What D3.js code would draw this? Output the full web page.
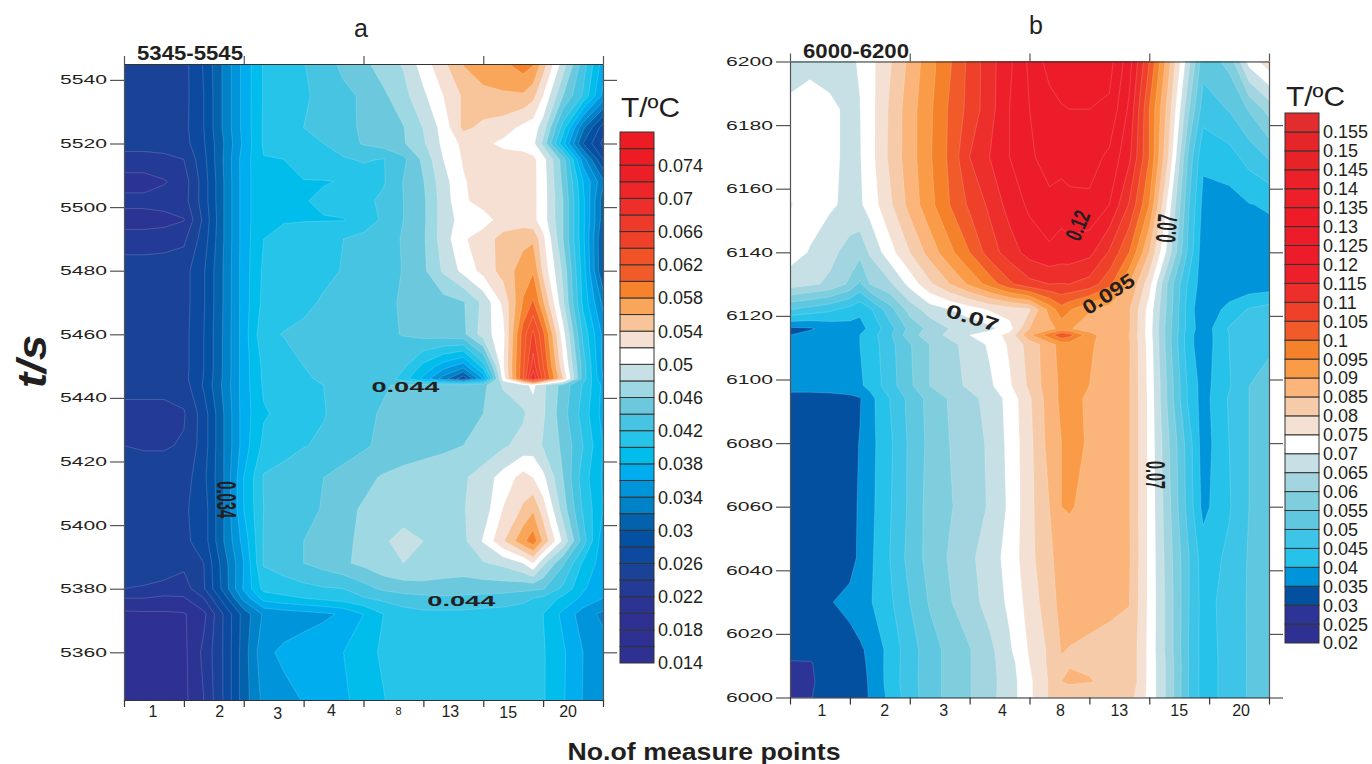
<!DOCTYPE html>
<html>
<head>
<meta charset="utf-8">
<title>T contours</title>
<script src="https://cdn.jsdelivr.net/npm/d3@7"></script>
<style>
  body { margin: 0; background: #fff; }
  text { font-family: "Liberation Sans", Arial, sans-serif; fill: #231f20; }
</style>
</head>
<body>
<div class="chart"></div>
<script>
// values are in 0.001 degC
const columnsA = [0,1,2,3,4,5,6,7,8,9,10,11,12,13,14,15,16,17,18,19,20,20.5,21,22,23,24];
const timesA = [5545,5535,5525,5520,5515,5508,5502,5496,5490,5480,5470,5460,5450,5446,5444,5435,5425,5415,5405,5395,5388,5380,5377,5372,5360,5345];
const gridA = [
  [25,25,25,25.3,28.2,32.4,36.7,40.2,40.9,41.9,43.1,44.5,45.5,47,48.2,51,53.5,56.1,57,57.6,59,58.2,55,49,43,37],
  [25,25,25,25.3,28,32.4,36.7,40.2,40.8,41.7,42.6,43.5,44.3,45.6,47.3,49.6,52,54.3,55.5,55.7,55.7,54.6,52,46,41.7,35.5],
  [25,25,25,25.4,28,32.4,36.7,40.3,41,42,42.8,43.4,44.3,45,45.9,48.1,50.8,54.5,53.5,53,51.5,51,49,41,32.5,27],
  [24.5,24.5,24.5,25.2,27.8,32,36.5,40.3,41,41.6,42,43,44.2,44.9,45.8,47.7,50.5,52.5,52.5,51.5,51,50.5,47.5,38.5,30,25.5],
  [23.5,23.5,23.7,24,27.4,32.2,37,39.9,40,41,41.5,41.8,42.2,41.9,43.5,46.5,50,52.2,53,53,53,52.5,50.8,45,35,28],
  [21,21,21.8,23,27,32,37,39.8,39.9,39.9,39.9,40.1,41,41.8,44.1,45.9,49.2,51.8,53,53.2,53,52.5,51,45.5,38,32.5],
  [22.7,22.7,23,23.2,27,32,37,39.8,39.9,39.9,40.3,41.1,41.5,42.4,44,45.6,49,51.6,53,53.1,53,52.5,51,46,38.5,31],
  [21,21,21.2,21.9,26.5,32,37,39.8,39.9,39.9,39.9,39.9,41,42.3,44,45.6,49,50.8,51,53,53,52.5,51,46,38.5,31],
  [23,23,23.2,23.6,27,32,37,40,40.4,40.9,41.4,42,42.5,43,44.2,45.7,49,51.7,53.2,54.6,55.4,55.7,52.5,46,38.5,30],
  [25,25,25,25.2,27.8,32.2,37,40.4,40.8,41.2,41.6,42.1,42.6,43.1,44.1,45.6,48.3,50.6,52.7,54.8,57,57.8,53.5,47.5,39,30],
  [25,25,25,25.2,27.8,32.2,37,40.6,41,41.6,42.2,42.7,43.1,43.6,44.2,44.8,45.2,45.8,48.5,52.5,58.2,60.3,56.3,48.3,39.5,33.5],
  [25,25,25,25.3,28,32.3,37,41.5,42.1,42.4,42.7,43,43.2,43.6,44.1,44.7,45,45.5,49,51.4,61,64.5,60.5,50.8,41.5,35.5],
  [25,25,25,25.3,28,32.3,37,40.5,41,42,42.5,43,43.4,43.8,42.4,39.5,37,35,41,51.8,61.5,67,62,52.5,43,35.5],
  [25,25,25,25.4,28.1,32.4,37,40.4,41,41.8,42.2,42.7,43.1,43.5,41,37.5,33,28.5,36,51,62,70,63,54,43,36],
  [24.5,24.5,24.5,25,28.3,32.5,37,40.3,41,41.7,42,42.4,42.9,43.7,44.5,44.8,45,45.1,45.5,48.2,49.4,50.5,48.4,45.2,41.8,37.5],
  [23.5,23.5,23.5,23.8,27,32,37,39.8,40.5,41.4,41.9,42.6,43.4,44.3,44.8,45.1,45.3,45.7,46,47,47.7,49,48.3,44.8,41.2,37.2],
  [24,23.8,23.8,24.2,27,32,37,40.5,41.2,41.9,42.3,42.9,43.7,44.5,45,45.3,45.6,46,46.5,47.7,48.7,49,47.8,45.6,42,38],
  [25,25,25,25,27.5,32,38,42.2,42.8,43.4,44,44.8,45.5,46.2,46.6,46.9,47.2,47.7,49,50.8,52.8,52,50.5,46,41,37.7],
  [25.5,25.5,25.5,25.7,27,32,38,42,43,43.6,44.1,45.5,46.2,46.8,47.3,47.7,47.7,47.9,48.9,52.1,54.3,55.7,53,47,41.7,38],
  [25.5,25.5,25.5,25.5,27,32,36.8,42.2,43.4,44,44.8,45.5,46.5,47.8,48.5,48,47.5,47.5,50.2,53.8,57.5,59.2,55.7,49.5,43,36.7],
  [25.5,25.3,25,24.5,26,31,36,42.2,43,44,44.8,45.7,46.5,47.6,48,47.8,47.2,47,47.8,48.5,50,52,48.5,44.3,39.7,37],
  [24,23.8,23.5,23,25.8,30.7,36.3,40.6,41,41.4,41.8,42,43.2,44.4,45,45.2,45.2,45.1,45,44.9,44.6,44.4,44.2,41.5,38.3,36.3],
  [22,22,21.5,21.8,24,29,34.7,38.8,39.5,40,40.5,41,41.8,42.5,43,43.4,43.6,43.4,43.2,43,42.5,42,41.5,39.5,37.5,36],
  [19.5,19.6,19.7,19.8,21.5,26.2,30.8,34.3,34.8,35.2,35.6,36.3,38,40,41.2,41.5,41.5,41.5,41.3,41.2,41,40.6,40,37.5,35,33.5],
  [19,19,19,19.5,22.5,26.2,31,35.5,36.4,36.9,37.5,38,39.3,40.3,41,41.2,41.2,41.2,41.2,41.1,40.8,40.5,40.2,38.3,36,35],
  [19,19,19,19.5,22,26.2,31,34.6,35.4,36.1,36.6,37.7,38.7,39.9,41,41.2,41.3,41.3,41.3,41.2,40.9,40.6,40.2,38.2,35.9,35]
];

const columnsB = [0,1,2,3,3.5,4,5,6,7,8,9,10,11,12,13,13.6,14,15,16,17,18,19,20,20.7,22,23,24];
const timesB = [6200,6185,6170,6155,6140,6130,6122,6116,6114,6111,6098,6094,6080,6060,6044,6030,6015,6011,6005,6000];
const gridB = [
  [68,68.5,69,69.5,70.3,73.3,79.4,86.3,93,99.3,106.4,113,119,126,132,134,134,134,132,122,105,86,66,52,56.5,72,78],
  [71,72.5,70.5,69.5,69.9,73,80.7,87.7,94,100.7,106.7,113,120,125,128,129.5,130,130,129,119,100,82,60,47.5,50.3,55.5,62],
  [71,72,71,69,69.7,73,81,87.7,94.3,101,110,115,120,124,127.5,127.5,127.5,127,124,116,100,79,53,41,43,47,50.5],
  [75.5,72,70.8,68.7,69.3,72,79,86.7,93.3,100,106,111,117,121,123.5,122,123.5,124,120,109.5,95,72,50,38.5,38,39.8,40.6],
  [72,69.7,66.5,63,61.5,65.7,73,80,87,93.5,100,107.5,112.5,117,119,118,118,116.5,109.5,100,85,67,48,37,37,37,37.5],
  [67.5,66,64,59,54,60,64,71.7,79,85,91,97,104,108.5,110,109.8,110,108,101.5,90,77,58,43.5,37.5,36.5,36.5,37],
  [50,48,46,43,41,44,53,62,67.5,70,72.5,75.5,77.5,79.5,92,98,95.5,90.5,87.5,85.5,73,57.5,42,36.5,41.5,45.5,47],
  [34,34.5,36.5,38,38.5,41,48,56.5,61.5,65.2,67,68.7,73,85,88,92,90.5,87.5,86,85.5,72.5,56.5,42.5,37,45.5,47.5,49],
  [35,36.5,37.5,38.5,40,42.5,49,58,62.5,66.3,70,72.7,76.5,89,98,104,102,92,87,85,72.5,56.5,41.5,37,45,47.5,49],
  [35,36,37,38,40,42,48.3,54.5,60,63.5,67,70.8,75.8,82,88,92,92.5,91,87,85.5,73,56.5,41.5,37,45,47,49],
  [37,37,37.5,38.5,39.3,41.3,47.7,54,60,63,66,69,74.3,81,88,90.8,91.5,90,87.8,85.3,73.5,58,43.5,38,44.5,50,52],
  [33,33,33,33.5,34.6,38.3,45,51.5,56.6,60.5,63.5,66.7,71.8,79.3,87.5,91,91,89.5,87.5,85.3,73.7,58,43.5,38,45.5,50,52],
  [33,33,33,33.5,35.2,38.3,44,51,56.3,60,62.9,65.7,71.5,78.5,87,90,91.5,89.5,87.8,85.3,73.7,60,47,37.5,45,50,52],
  [33,33,33,33.5,35.6,38.5,44.5,51,57,59.5,62.5,65.5,71,78.5,85,90,90.5,88.5,87,85.3,73.7,61,47.5,38.5,44.5,50,52.5],
  [33,33,33,33.7,35.7,38.9,45,51.7,56.8,60.5,64,67.5,72,78.3,84.3,86.5,87,87.5,87.5,85.5,73.7,62,50,42.5,46,50.5,52.5],
  [33,33.5,34.8,36,37,39.5,44,50,55.5,59.6,63,67,71,77,83,86.5,87.5,86,85.5,85.1,73.7,62.5,50,43,47,50.5,52.5],
  [33,33,33,33.7,34.5,35.7,41.8,47.7,52.8,56.5,59.7,63.6,69.3,75.6,81,85.3,84.8,84.5,84.3,84,73.5,62.5,49.5,43,46.6,50.5,52.5],
  [29.5,29.7,32,33.3,34.3,35.5,42,47.8,52.8,56.5,59.7,63.6,68,75,81,84.5,84.7,84.5,84.3,84,73.5,63,49.8,43,46.5,50.5,52.5],
  [29,29.5,31.5,33,34,35.3,42,48,52.8,56.5,59.7,63.5,67.5,74,80.5,85,85.7,85.2,84.3,84,73.5,63,49.5,43,46.5,50.5,52.5],
  [28,29.8,31.5,33,34,35.2,41.3,47.6,52.8,56.6,59.7,63.7,67.5,74,80.5,81.7,82,82,82,82,73.5,63,49.5,43,46.5,50.5,52.5]
];

const levelsA = d3.range(14, 78, 2);
const colorsA = ["#2e3192","#2e3192","#2e3192","#2b3493","#233b96","#1a4296","#0d4a9f","#0451a3","#0461ab","#0082c8",
  "#0095da","#00aeef","#00bdec","#27c4ea","#46c4e2","#6cc9dd","#9dd8e3","#c7e0e5","#ffffff","#f5e0d3",
  "#f8c49a","#faa65a","#f6822b","#f15a29","#f15326","#ef4129","#ee3a2a","#ee2e2b","#ed2629","#ed1f26","#ed1c24","#ed1c24"];
const legendLabelsA = ["0.014","0.018","0.022","0.026","0.03","0.034","0.038","0.042","0.046","0.05","0.054","0.058","0.062","0.066","0.07","0.074"];

const levelsB = d3.range(20, 160, 5);
const colorsB = ["#2e3192","#2c3595","#0450a0","#0095da","#27c2ea","#3ec4e6","#5fc7e0","#7fcede","#a2d5e0","#c7e0e5",
  "#ffffff","#f5e1d3","#f6cbaa","#fbb57a","#fa9c47","#f5812a","#f15a29","#ef4129","#ed2f2c","#ed1f2b",
  "#ed1c2a","#ed1c2a","#ed1c28","#ed1f28","#ec2028","#e82328","#e52529","#e12d2e"];
const legendLabelsB = ["0.02","0.025","0.03","0.035","0.04","0.045","0.05","0.055","0.06","0.065","0.07","0.075","0.08","0.085","0.09","0.095","0.1","0.105","0.11","0.115","0.12","0.125","0.13","0.135","0.14","0.145","0.15","0.155"];

const pointLabels = ["1","2","3","4","8","13","15","20"];
const tickTimesA = d3.range(5360, 5541, 20);
const tickTimesB = d3.range(6000, 6201, 20);

const svg = d3.select(".chart").append("svg")
  .attr("width", 1372)
  .attr("height", 764)
  .style("display", "block");

function drawPanel(p) {
  const g = svg.append("g");
  const xScale = d3.scaleLinear().domain([0, 24]).range([p.left, p.right]);
  const yScale = d3.scaleLinear().domain(p.tDomain).range([p.bottom, p.top]);
  const colOf = d3.scaleLinear().domain(d3.range(p.columns.length)).range(p.columns);
  const timeOf = d3.scaleLinear().domain(d3.range(p.times.length)).range(p.times);

  const path = d3.geoPath(d3.geoTransform({
    point(x, y) {
      this.stream.point(xScale(colOf(x - 0.5)), yScale(timeOf(y - 0.5)));
    }
  }));

  g.append("clipPath").attr("id", "clip" + p.name)
    .append("rect")
    .attr("x", p.left).attr("y", p.top)
    .attr("width", p.right - p.left).attr("height", p.bottom - p.top);

  const plot = g.append("g").attr("clip-path", `url(#clip${p.name})`);
  plot.append("rect")
    .attr("x", p.left).attr("y", p.top)
    .attr("width", p.right - p.left).attr("height", p.bottom - p.top)
    .attr("fill", p.colors[0]);

  const contours = d3.contours()
    .size([p.columns.length, p.times.length])
    .thresholds(p.levels.slice(1))(p.grid.flat());

  plot.selectAll("path")
    .data(contours)
    .join("path")
    .attr("d", path)
    .attr("fill", (d, i) => p.colors[i + 1])
    .attr("stroke", "#fff")
    .attr("stroke-opacity", 0.28)
    .attr("stroke-width", 0.6);

  // axes
  const left = d3.axisLeft(yScale).tickValues(p.ticks).tickFormat(d3.format("d")).tickSize(p.leftTick).tickPadding(3).tickSizeOuter(0);
  const right = d3.axisRight(yScale).tickValues(p.ticks.filter(t => t !== 6200)).tickSize(14).tickFormat("").tickSizeOuter(0);
  const top = d3.axisTop(xScale).tickValues(d3.range(0, 25, 6)).tickSize(8).tickFormat("").tickSizeOuter(0);
  const bottom = d3.axisBottom(xScale).tickValues(d3.range(0, 25, 3)).tickSize(7).tickFormat("").tickSizeOuter(0);

  g.append("g").attr("transform", `translate(${p.left},0)`).call(left)
    .call(a => a.selectAll("line,path").attr("stroke", "#555").attr("stroke-width", 1.2))
    .call(a => a.selectAll("text")
      .attr("font-size", 12.5)
      .attr("textLength", 47)
      .attr("lengthAdjust", "spacingAndGlyphs")
      .style("font-family", "'Liberation Sans'")
      .attr("fill", "#231f20"));
  g.append("g").attr("transform", `translate(${p.right},0)`).call(right)
    .call(a => a.selectAll("line,path").attr("stroke", "#555").attr("stroke-width", 1.2));
  g.append("g").attr("transform", `translate(0,${p.top})`).call(top)
    .call(a => a.selectAll("line").attr("stroke", "#555").attr("stroke-width", 1.2))
    .call(a => a.select(".domain").attr("stroke", "#333").attr("stroke-width", 1.2));
  g.append("g").attr("transform", `translate(0,${p.bottom})`).call(bottom)
    .call(a => a.selectAll("line").attr("stroke", "#333").attr("stroke-width", 1.2))
    .call(a => a.select(".domain").attr("stroke", "#333").attr("stroke-width", 1.2));

  // point names, not quite centred in the original
  const band = d3.scaleBand().domain(pointLabels).range([p.left, p.right]);
  g.selectAll(".point")
    .data(pointLabels)
    .join("text")
    .attr("class", "point")
    .attr("x", (d, i) => band(d) + band.bandwidth() / 2 + p.labelDx[i])
    .attr("y", (d, i) => p.labelY + (p.labelDy ? p.labelDy[i] : 0))
    .attr("text-anchor", "middle")
    .attr("font-size", d => (d === "8" && p.name === "a") ? 11 : 16)
    .text(d => d);

  g.append("text")
    .attr("x", p.titleX).attr("y", p.titleY)
    .attr("text-anchor", "middle")
    .attr("font-size", 25)
    .text(p.name);

  g.append("text")
    .attr("x", p.left + 13).attr("y", p.top - 4)
    .attr("font-size", 20)
    .attr("font-weight", "bold")
    .attr("textLength", 106)
    .attr("lengthAdjust", "spacingAndGlyphs")
    .text(p.rangeLabel);

  // legend
  const legendY = d3.scaleLinear()
    .domain([p.levels[0], p.levels[p.levels.length - 1] + p.step])
    .range([p.legendBottom, p.legendTop]);

  g.selectAll(".swatch")
    .data(p.levels)
    .join("rect")
    .attr("class", "swatch")
    .attr("x", p.legendX)
    .attr("y", d => legendY(d + p.step))
    .attr("width", 34)
    .attr("height", d => legendY(d) - legendY(d + p.step))
    .attr("fill", (d, i) => p.colors[i])
    .attr("stroke", "#333")
    .attr("stroke-width", 1);

  g.selectAll(".legendlabel")
    .data(p.legendLabels)
    .join("text")
    .attr("class", "legendlabel")
    .attr("x", p.legendX + 38)
    .attr("y", d => legendY(+d * 1000))
    .attr("dy", "0.36em")
    .attr("font-size", p.legendFont)
    .text(d => d);

  g.append("text")
    .attr("x", p.legendX + 1).attr("y", p.unitY)
    .attr("font-size", 28)
    .attr("textLength", 59)
    .attr("lengthAdjust", "spacingAndGlyphs")
    .text("T/ºC");

  // contour labels
  g.selectAll(".clabel")
    .data(p.contourLabels)
    .join("text")
    .attr("class", "clabel")
    .attr("transform", d => `translate(${xScale(d.col)},${yScale(d.t)}) rotate(${d.angle})`)
    .attr("text-anchor", "middle")
    .attr("dy", "0.36em")
    .attr("font-size", d => d.size)
    .attr("font-weight", "bold")
    .attr("textLength", d => d.len)
    .attr("lengthAdjust", "spacingAndGlyphs")
    .text(d => d.text);
}

drawPanel({
  name: "a", left: 124, right: 603, top: 64, bottom: 700, tDomain: [5345, 5545],
  columns: columnsA, times: timesA, grid: gridA, levels: levelsA, colors: colorsA, step: 2,
  ticks: tickTimesA, leftTick: 14, rangeLabel: "5345-5545",
  titleX: 361, titleY: 37, labelY: 717, labelDx: [-1, 6, 4, -2, 5, -3, -5, -5], labelDy: [0, 0, 2, -1, -2, 0, 1, 0],
  legendX: 620, legendTop: 132, legendBottom: 663, legendLabels: legendLabelsA, legendFont: 18, unitY: 117,
  contourLabels: [
    {text: "0.044", col: 14.1, t: 5443.4, angle: 0, size: 15, len: 68},
    {text: "0.044", col: 16.9, t: 5376.4, angle: 0, size: 15, len: 68},
    {text: "0.034", col: 5.16, t: 5408, angle: 90, size: 28, len: 37}
  ]
});

drawPanel({
  name: "b", left: 790, right: 1269, top: 61.5, bottom: 697.5, tDomain: [6000, 6200],
  columns: columnsB, times: timesB, grid: gridB, levels: levelsB, colors: colorsB, step: 5,
  ticks: tickTimesB, leftTick: 14, rangeLabel: "6000-6200",
  titleX: 1036, titleY: 34, labelY: 716, labelDx: [2, 5, 4, 3, 1, 0, 0, 2],
  legendX: 1285, legendTop: 113, legendBottom: 643, legendLabels: legendLabelsB, legendFont: 18, unitY: 106,
  contourLabels: [
    {text: "0.07", col: 9.15, t: 6119.5, angle: 17, size: 19, len: 54},
    {text: "0.12", col: 14.4, t: 6148.5, angle: -68, size: 23, len: 30},
    {text: "0.095", col: 15.95, t: 6127, angle: -33, size: 20, len: 58},
    {text: "0.07", col: 18.85, t: 6147.5, angle: -85, size: 28, len: 28},
    {text: "0.07", col: 18.3, t: 6070, angle: 90, size: 27, len: 28}
  ]
});

svg.append("text")
  .attr("transform", "translate(46,388) rotate(-90)")
  .attr("font-size", 40)
  .attr("font-weight", "bold")
  .attr("font-style", "italic")
  .attr("textLength", 53)
  .attr("lengthAdjust", "spacingAndGlyphs")
  .text("t/s");

svg.append("text")
  .attr("x", 704).attr("y", 760)
  .attr("text-anchor", "middle")
  .attr("font-size", 24)
  .attr("font-weight", "bold")
  .attr("textLength", 273)
  .attr("lengthAdjust", "spacingAndGlyphs")
  .text("No.of measure points");
</script>
</body>
</html>
